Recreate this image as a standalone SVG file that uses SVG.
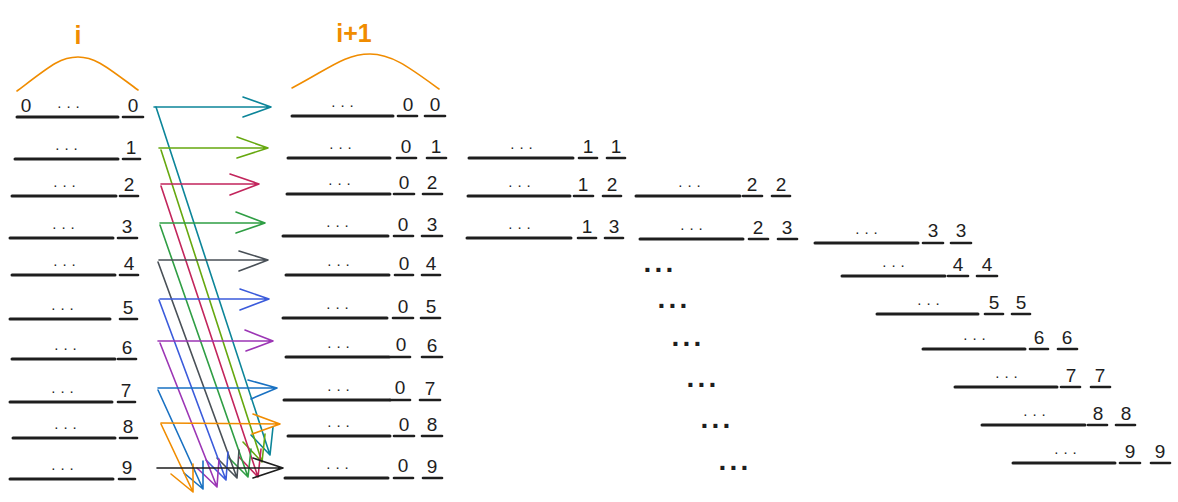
<svg xmlns="http://www.w3.org/2000/svg" width="1178" height="502" viewBox="0 0 1178 502">
<style>
.u{stroke:#1e1e1e;stroke-width:3;stroke-linecap:round;fill:none}
.s{stroke:#1e1e1e;stroke-width:2.6;stroke-linecap:round;fill:none}
.d{font-family:"Liberation Sans",Arial,sans-serif;font-size:19px;fill:#1e1e1e;text-anchor:middle}
.e{font-family:"Liberation Sans",Arial,sans-serif;font-size:15px;fill:#1e1e1e;text-anchor:middle;letter-spacing:5px}
.b{font-family:"Liberation Sans",Arial,sans-serif;font-size:28px;font-weight:bold;fill:#1e1e1e;text-anchor:middle;letter-spacing:3.2px}
.o{font-family:"Liberation Sans",Arial,sans-serif;font-size:25px;font-weight:bold;fill:#f08c00;text-anchor:middle}
.arc{stroke:#f08c00;stroke-width:1.6;fill:none;stroke-linecap:round}
.a{stroke-width:1.6;fill:none;stroke-linecap:round;stroke-linejoin:round}
</style>

<g id="label-i">
<text class="o" x="78" y="44">i</text>
<path class="arc" d="M17,91 C50,66 60,57 78,57 C96,57 108,68 138,90"/>
</g>
<g id="label-i1">
<text class="o" x="354" y="42">i+1</text>
<path class="arc" d="M292,88 C330,68 345,54 370,54 C392,54 410,68 439,89"/>
</g>

<!-- left column i -->
<g id="left-0"><text class="d" x="26" y="112">0</text><text class="e" x="71" y="108">...</text><line class="u" x1="17" y1="117" x2="118" y2="117"/><line class="s" x1="123" y1="117" x2="143" y2="117"/><text class="d" x="133" y="112">0</text></g>
<g id="left-1"><text class="e" x="69" y="150">...</text><line class="u" x1="15" y1="159" x2="118" y2="159"/><line class="s" x1="123" y1="159" x2="140" y2="159"/><text class="d" x="131" y="154">1</text></g>
<g id="left-2"><text class="e" x="67" y="187">...</text><line class="u" x1="12" y1="196" x2="116" y2="196"/><line class="s" x1="120" y1="196" x2="138" y2="196"/><text class="d" x="129" y="191">2</text></g>
<g id="left-3"><text class="e" x="66" y="229">...</text><line class="u" x1="10" y1="238" x2="113" y2="238"/><line class="s" x1="118" y1="238" x2="137" y2="238"/><text class="d" x="127" y="233">3</text></g>
<g id="left-4"><text class="e" x="67" y="266">...</text><line class="u" x1="12" y1="275" x2="115" y2="275"/><line class="s" x1="120" y1="275" x2="138" y2="275"/><text class="d" x="129" y="270">4</text></g>
<g id="left-5"><text class="e" x="65" y="310">...</text><line class="u" x1="10" y1="319" x2="110" y2="319"/><line class="s" x1="120" y1="319" x2="137" y2="319"/><text class="d" x="128" y="314">5</text></g>
<g id="left-6"><text class="e" x="68" y="350">...</text><line class="u" x1="12" y1="359" x2="115" y2="359"/><line class="s" x1="118" y1="359" x2="136" y2="359"/><text class="d" x="127" y="354">6</text></g>
<g id="left-7"><text class="e" x="65" y="393">...</text><line class="u" x1="10" y1="402" x2="112" y2="402"/><line class="s" x1="118" y1="402" x2="135" y2="402"/><text class="d" x="126" y="397">7</text></g>
<g id="left-8"><text class="e" x="68" y="429">...</text><line class="u" x1="13" y1="438" x2="115" y2="438"/><line class="s" x1="120" y1="438" x2="137" y2="438"/><text class="d" x="128" y="433">8</text></g>
<g id="left-9"><text class="e" x="65" y="470">...</text><line class="u" x1="10" y1="479" x2="113" y2="479"/><line class="s" x1="119" y1="479" x2="135" y2="479"/><text class="d" x="127" y="474">9</text></g>

<!-- middle column i+1 -->
<g id="mid-0"><text class="e" x="345" y="107">...</text><line class="u" x1="292" y1="116" x2="393" y2="116"/><line class="s" x1="398" y1="116" x2="417" y2="116"/><line class="s" x1="425" y1="116" x2="445" y2="116"/><text class="d" x="408" y="111">0</text><text class="d" x="435" y="111">0</text></g>
<g id="mid-1"><text class="e" x="343" y="149">...</text><line class="u" x1="288" y1="158" x2="390" y2="158"/><line class="s" x1="397" y1="158" x2="416" y2="158"/><line class="s" x1="427" y1="158" x2="446" y2="158"/><text class="d" x="406" y="153">0</text><text class="d" x="436" y="153">1</text></g>
<g id="mid-2"><text class="e" x="342" y="185">...</text><line class="u" x1="287" y1="194" x2="390" y2="194"/><line class="s" x1="394" y1="194" x2="414" y2="194"/><line class="s" x1="423" y1="194" x2="442" y2="194"/><text class="d" x="404" y="189">0</text><text class="d" x="432" y="189">2</text></g>
<g id="mid-3"><text class="e" x="340" y="227">...</text><line class="u" x1="283" y1="236" x2="388" y2="236"/><line class="s" x1="394" y1="236" x2="413" y2="236"/><line class="s" x1="422" y1="236" x2="442" y2="236"/><text class="d" x="403" y="231">0</text><text class="d" x="432" y="231">3</text></g>
<g id="mid-4"><text class="e" x="341" y="266">...</text><line class="u" x1="286" y1="275" x2="389" y2="275"/><line class="s" x1="395" y1="275" x2="413" y2="275"/><line class="s" x1="422" y1="275" x2="440" y2="275"/><text class="d" x="404" y="270">0</text><text class="d" x="431" y="270">4</text></g>
<g id="mid-5"><text class="e" x="340" y="309">...</text><line class="u" x1="283" y1="318" x2="387" y2="318"/><line class="s" x1="393" y1="318" x2="413" y2="318"/><line class="s" x1="421" y1="318" x2="440" y2="318"/><text class="d" x="403" y="313">0</text><text class="d" x="431" y="313">5</text></g>
<g id="mid-6"><text class="e" x="341" y="348">...</text><line class="u" x1="286" y1="357" x2="389" y2="357"/><line class="s" x1="390" y1="357" x2="410" y2="357"/><line class="s" x1="422" y1="357" x2="442" y2="357"/><text class="d" x="401" y="351">0</text><text class="d" x="432" y="352">6</text></g>
<g id="mid-7"><text class="e" x="341" y="391">...</text><line class="u" x1="284" y1="400" x2="390" y2="400"/><line class="s" x1="390" y1="400" x2="410" y2="400"/><line class="s" x1="420" y1="400" x2="440" y2="400"/><text class="d" x="400" y="394">0</text><text class="d" x="430" y="395">7</text></g>
<g id="mid-8"><text class="e" x="341" y="427">...</text><line class="u" x1="288" y1="436" x2="390" y2="436"/><line class="s" x1="394" y1="436" x2="414" y2="436"/><line class="s" x1="422" y1="436" x2="442" y2="436"/><text class="d" x="404" y="431">0</text><text class="d" x="432" y="431">8</text></g>
<g id="mid-9"><text class="e" x="340" y="469">...</text><line class="u" x1="285" y1="478" x2="388" y2="478"/><line class="s" x1="394" y1="478" x2="413" y2="478"/><line class="s" x1="423" y1="478" x2="442" y2="478"/><text class="d" x="403" y="472">0</text><text class="d" x="432" y="473">9</text></g>

<!-- further columns -->
<g id="n11"><text class="e" x="524" y="149">...</text><line class="u" x1="469" y1="158" x2="573" y2="158"/><line class="s" x1="579" y1="158" x2="597" y2="158"/><line class="s" x1="607" y1="158" x2="625" y2="158"/><text class="d" x="588" y="153">1</text><text class="d" x="616" y="153">1</text></g>
<g id="n12"><text class="e" x="522" y="187">...</text><line class="u" x1="468" y1="196" x2="570" y2="196"/><line class="s" x1="574" y1="196" x2="593" y2="196"/><line class="s" x1="603" y1="196" x2="621" y2="196"/><text class="d" x="583" y="191">1</text><text class="d" x="612" y="191">2</text></g>
<g id="n13"><text class="e" x="522" y="229">...</text><line class="u" x1="467" y1="238" x2="571" y2="238"/><line class="s" x1="578" y1="238" x2="596" y2="238"/><line class="s" x1="605" y1="238" x2="623" y2="238"/><text class="d" x="587" y="233">1</text><text class="d" x="614" y="233">3</text></g>
<g id="n22"><text class="e" x="692" y="187">...</text><line class="u" x1="636" y1="196" x2="740" y2="196"/><line class="s" x1="743" y1="196" x2="762" y2="196"/><line class="s" x1="772" y1="196" x2="790" y2="196"/><text class="d" x="752" y="191">2</text><text class="d" x="781" y="191">2</text></g>
<g id="n23"><text class="e" x="694" y="230">...</text><line class="u" x1="640" y1="239" x2="743" y2="239"/><line class="s" x1="749" y1="239" x2="768" y2="239"/><line class="s" x1="778" y1="239" x2="797" y2="239"/><text class="d" x="758" y="234">2</text><text class="d" x="787" y="234">3</text></g>
<g id="n33"><text class="e" x="869" y="234">...</text><line class="u" x1="815" y1="243" x2="918" y2="243"/><line class="s" x1="923" y1="243" x2="943" y2="243"/><line class="s" x1="951" y1="243" x2="971" y2="243"/><text class="d" x="933" y="237">3</text><text class="d" x="961" y="237">3</text></g>
<g id="n44"><text class="e" x="896" y="267">...</text><line class="u" x1="842" y1="276" x2="945" y2="276"/><line class="s" x1="948" y1="276" x2="968" y2="276"/><line class="s" x1="977" y1="276" x2="997" y2="276"/><text class="d" x="958" y="271">4</text><text class="d" x="987" y="271">4</text></g>
<g id="n55"><text class="e" x="931" y="305">...</text><line class="u" x1="877" y1="314" x2="978" y2="314"/><line class="s" x1="985" y1="314" x2="1003" y2="314"/><line class="s" x1="1012" y1="314" x2="1030" y2="314"/><text class="d" x="994" y="309">5</text><text class="d" x="1021" y="309">5</text></g>
<g id="n66"><text class="e" x="977" y="340">...</text><line class="u" x1="923" y1="349" x2="1025" y2="349"/><line class="s" x1="1030" y1="349" x2="1048" y2="349"/><line class="s" x1="1058" y1="349" x2="1077" y2="349"/><text class="d" x="1039" y="344">6</text><text class="d" x="1067" y="344">6</text></g>
<g id="n77"><text class="e" x="1009" y="378">...</text><line class="u" x1="955" y1="387" x2="1057" y2="387"/><line class="s" x1="1061" y1="387" x2="1080" y2="387"/><line class="s" x1="1091" y1="387" x2="1110" y2="387"/><text class="d" x="1071" y="382">7</text><text class="d" x="1100" y="382">7</text></g>
<g id="n88"><text class="e" x="1037" y="416">...</text><line class="u" x1="982" y1="425" x2="1085" y2="425"/><line class="s" x1="1088" y1="425" x2="1107" y2="425"/><line class="s" x1="1116" y1="425" x2="1135" y2="425"/><text class="d" x="1098" y="420">8</text><text class="d" x="1126" y="420">8</text></g>
<g id="n99"><text class="e" x="1068" y="454">...</text><line class="u" x1="1013" y1="463" x2="1115" y2="463"/><line class="s" x1="1120" y1="463" x2="1140" y2="463"/><line class="s" x1="1151" y1="463" x2="1170" y2="463"/><text class="d" x="1130" y="458">9</text><text class="d" x="1160" y="458">9</text></g>

<g id="ellipses">
<text class="b" x="660" y="272">...</text>
<text class="b" x="674" y="308">...</text>
<text class="b" x="688" y="346">...</text>
<text class="b" x="703" y="387">...</text>
<text class="b" x="717" y="428">...</text>
<text class="b" x="735" y="470">...</text>
</g>

<g id="connectors">
<g stroke="#0c8599" class="a"><path d="M154,107 L271,107 M243,97 L271,107 L243,117"/><path d="M156,107 L270,455 M273,427 L270,455 L251,435"/></g>
<g stroke="#66a80f" class="a"><path d="M159,148 L268,148 M237,137 L268,148 L237,158"/><path d="M161,150 L262,462 M265,434 L262,462 L243,442"/></g>
<g stroke="#c2255c" class="a"><path d="M161,184 L259,184 M230,174 L259,184 L230,195"/><path d="M161,186 L258,477 M261,449 L258,477 L239,457"/></g>
<g stroke="#2f9e44" class="a"><path d="M160,223 L265,223 M236,212 L265,223 L236,233"/><path d="M160,225 L248,477 M251,449 L248,477 L228,457"/></g>
<g stroke="#495057" class="a"><path d="M159,260 L268,260 M239,251 L268,260 L239,271"/><path d="M158,262 L237,478 M239,450 L237,478 L217,458"/></g>
<g stroke="#3b5bdb" class="a"><path d="M160,299 L269,299 M240,289 L269,299 L240,310"/><path d="M159,300 L226,480 M228,452 L226,480 L206,460"/></g>
<g stroke="#9c36b5" class="a"><path d="M158,341 L273,341 M245,330 L273,341 L246,351"/><path d="M160,343 L217,487 M219,459 L217,487 L197,468"/></g>
<g stroke="#1971c2" class="a"><path d="M158,388 L277,388 M248,380 L277,388 L251,399"/><path d="M158,390 L203,489 M203,461 L203,489 L184,473"/></g>
<g stroke="#f08c00" class="a"><path d="M161,423 L280,424 M253,414 L280,424 L252,434"/><path d="M161,424 L193,492 M193,464 L193,492 L171,474"/></g>
<g stroke="#1e1e1e" class="a"><path d="M157,468 L283,468 M253,458 L283,468 L253,478"/></g>
</g>
</svg>
